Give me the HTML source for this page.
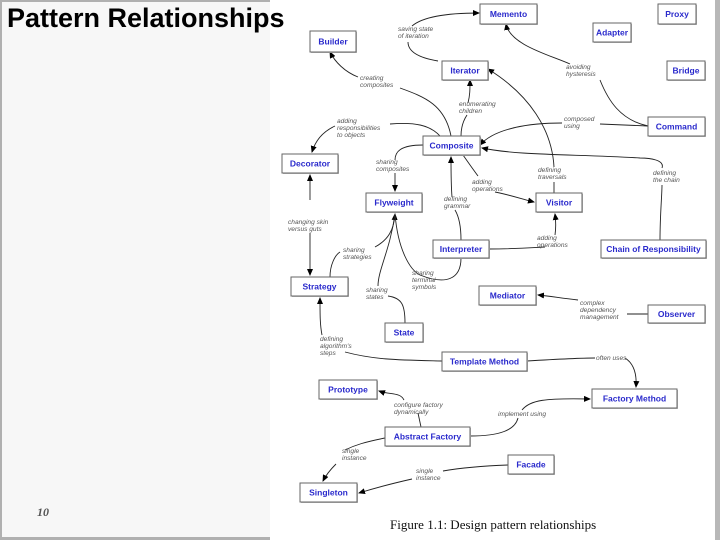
<!DOCTYPE html>
<html><head><meta charset="utf-8"><style>
html,body{margin:0;padding:0;}
body{width:720px;height:540px;position:relative;overflow:hidden;background:#fff;font-family:"Liberation Sans",Arial,sans-serif;}
.left{position:absolute;left:0;top:0;width:270px;height:540px;background:#f7f7f7;}
.bt{position:absolute;left:0;top:0;width:270px;height:2px;background:#b0b0b0;}
.bl{position:absolute;left:0;top:0;width:2px;height:540px;background:#b0b0b0;}
.bb{position:absolute;left:0;top:537px;width:270px;height:3px;background:#b0b0b0;}
.br{position:absolute;left:715px;top:0;width:5px;height:540px;background:#b8b8b8;}
.title{position:absolute;left:7px;top:3px;font-size:27px;font-weight:bold;color:#000;white-space:nowrap;}
.pn{position:absolute;left:37px;top:505px;font-size:12px;font-style:italic;font-weight:bold;color:#555;font-family:"Liberation Serif",serif;}
svg{position:absolute;left:0;top:0;}
</style></head><body>
<div class="left"></div><div class="bt"></div><div class="bl"></div><div class="bb"></div><div class="br"></div>
<svg width="720" height="540" viewBox="0 0 720 540">
<defs><marker id="a" markerWidth="7" markerHeight="6" refX="6" refY="3" orient="auto" markerUnits="userSpaceOnUse"><path d="M0,0 L7,3 L0,6z" fill="#000"/></marker></defs>
<g fill="none" stroke="#222" stroke-width="0.9">
<path d="M438,61 C420,58 408,52 408,42"/>
<path d="M412,26 C425,15 455,13 479,13" marker-end="url(#a)"/>
<path d="M451,136 C445,105 425,97 400,88"/>
<path d="M358,77 C345,72 335,62 330,52" marker-end="url(#a)"/>
<path d="M461,136 C461,125 465,118 467,115"/>
<path d="M468,103 C470,95 470,90 470,80" marker-end="url(#a)"/>
<path d="M554,195 L554,182"/>
<path d="M554,167 C552,130 530,95 488,69" marker-end="url(#a)"/>
<path d="M648,126 C620,120 608,100 600,80"/>
<path d="M570,64 C550,55 510,45 506,24" marker-end="url(#a)"/>
<path d="M648,126 L600,124"/>
<path d="M562,123 C530,123 495,128 480,145" marker-end="url(#a)"/>
<path d="M660,240 C660,215 662,195 662,185"/>
<path d="M662,168 C665,160 650,158 640,158 C580,154 520,156 482,148" marker-end="url(#a)"/>
<path d="M440,136 C430,125 415,122 390,124"/>
<path d="M335,126 C322,132 315,142 312,152" marker-end="url(#a)"/>
<path d="M423,145 C400,145 395,152 395,160"/>
<path d="M395,173 L395,191" marker-end="url(#a)"/>
<path d="M461,240 C461,225 458,215 455,210"/>
<path d="M452,197 C451,185 451,172 451,157" marker-end="url(#a)"/>
<path d="M463,155 C470,165 475,172 478,176"/>
<path d="M495,192 C510,195 522,199 534,202" marker-end="url(#a)"/>
<path d="M489,249 C520,249 540,247 545,247"/>
<path d="M555,235 C556,228 556,222 555,214" marker-end="url(#a)"/>
<path d="M310,200 L310,175" marker-end="url(#a)"/>
<path d="M310,233 L310,275" marker-end="url(#a)"/>
<path d="M330,277 C330,265 335,255 340,252"/>
<path d="M375,247 C388,240 394,230 395,214" marker-end="url(#a)"/>
<path d="M378,286 C378,270 390,250 395,214"/>
<path d="M461,258 C461,280 445,285 420,275 C410,270 398,250 395,214"/>
<path d="M405,323 C405,305 402,298 388,296"/>
<path d="M442,361 C400,360 375,360 345,352"/>
<path d="M322,335 C320,325 320,315 320,298" marker-end="url(#a)"/>
<path d="M527,361 C560,359 580,358 595,358"/>
<path d="M625,358 C633,363 637,372 636,387" marker-end="url(#a)"/>
<path d="M578,300 C560,298 550,296 538,295" marker-end="url(#a)"/>
<path d="M627,314 L648,314"/>
<path d="M404,400 C400,392 390,395 379,391" marker-end="url(#a)"/>
<path d="M421,427 L418,413"/>
<path d="M470,436 C500,436 515,430 518,418"/>
<path d="M522,410 C530,400 545,398 590,399" marker-end="url(#a)"/>
<path d="M385,438 C365,442 355,445 345,450"/>
<path d="M336,464 C330,470 325,477 323,481" marker-end="url(#a)"/>
<path d="M508,465 C480,466 460,468 443,471"/>
<path d="M412,479 C390,484 375,488 359,493" marker-end="url(#a)"/>
</g>
<g font-family="Liberation Sans,Arial,sans-serif" font-size="6.6" font-style="italic" fill="#555">
<text x="398" y="31">saving state</text><text x="398" y="38">of iteration</text>
<text x="360" y="80">creating</text><text x="360" y="87">composites</text>
<text x="459" y="106">enumerating</text><text x="459" y="113">children</text>
<text x="566" y="69">avoiding</text><text x="566" y="76">hysteresis</text>
<text x="564" y="121">composed</text><text x="564" y="128">using</text>
<text x="337" y="123">adding</text><text x="337" y="130">responsibilities</text><text x="337" y="137">to objects</text>
<text x="376" y="164">sharing</text><text x="376" y="171">composites</text>
<text x="472" y="184">adding</text><text x="472" y="191">operations</text>
<text x="538" y="172">defining</text><text x="538" y="179">traversals</text>
<text x="653" y="175">defining</text><text x="653" y="182">the chain</text>
<text x="444" y="201">defining</text><text x="444" y="208">grammar</text>
<text x="288" y="224">changing skin</text><text x="288" y="231">versus guts</text>
<text x="343" y="252">sharing</text><text x="343" y="259">strategies</text>
<text x="537" y="240">adding</text><text x="537" y="247">operations</text>
<text x="412" y="275">sharing</text><text x="412" y="282">terminal</text><text x="412" y="289">symbols</text>
<text x="366" y="292">sharing</text><text x="366" y="299">states</text>
<text x="580" y="305">complex</text><text x="580" y="312">dependency</text><text x="580" y="319">management</text>
<text x="320" y="341">defining</text><text x="320" y="348">algorithm's</text><text x="320" y="355">steps</text>
<text x="596" y="360">often uses</text>
<text x="394" y="407">configure factory</text><text x="394" y="414">dynamically</text>
<text x="498" y="416">implement using</text>
<text x="342" y="453">single</text><text x="342" y="460">instance</text>
<text x="416" y="473">single</text><text x="416" y="480">instance</text>
</g>
<g fill="#bbb">
<rect x="481" y="5" width="57" height="20"/><rect x="659" y="5" width="38" height="20"/>
<rect x="594" y="24" width="38" height="19"/><rect x="311" y="32" width="46" height="21"/>
<rect x="668" y="62" width="38" height="19"/><rect x="443" y="62" width="46" height="19"/>
<rect x="649" y="118" width="57" height="19"/><rect x="424" y="137" width="57" height="19"/>
<rect x="283" y="155" width="56" height="19"/><rect x="367" y="194" width="56" height="19"/>
<rect x="537" y="194" width="46" height="19"/><rect x="434" y="241" width="56" height="18"/>
<rect x="602" y="241" width="105" height="18"/><rect x="292" y="278" width="57" height="19"/>
<rect x="480" y="287" width="57" height="19"/><rect x="649" y="306" width="57" height="18"/>
<rect x="386" y="324" width="38" height="19"/><rect x="443" y="353" width="85" height="19"/>
<rect x="320" y="381" width="58" height="19"/><rect x="593" y="390" width="85" height="19"/>
<rect x="386" y="428" width="85" height="19"/><rect x="509" y="456" width="46" height="19"/>
<rect x="301" y="484" width="57" height="19"/>
</g>
<g stroke="#666" stroke-width="1" fill="#fff">
<rect x="480" y="4" width="57" height="20"/><rect x="658" y="4" width="38" height="20"/>
<rect x="593" y="23" width="38" height="19"/><rect x="310" y="31" width="46" height="21"/>
<rect x="667" y="61" width="38" height="19"/><rect x="442" y="61" width="46" height="19"/>
<rect x="648" y="117" width="57" height="19"/><rect x="423" y="136" width="57" height="19"/>
<rect x="282" y="154" width="56" height="19"/><rect x="366" y="193" width="56" height="19"/>
<rect x="536" y="193" width="46" height="19"/><rect x="433" y="240" width="56" height="18"/>
<rect x="601" y="240" width="105" height="18"/><rect x="291" y="277" width="57" height="19"/>
<rect x="479" y="286" width="57" height="19"/><rect x="648" y="305" width="57" height="18"/>
<rect x="385" y="323" width="38" height="19"/><rect x="442" y="352" width="85" height="19"/>
<rect x="319" y="380" width="58" height="19"/><rect x="592" y="389" width="85" height="19"/>
<rect x="385" y="427" width="85" height="19"/><rect x="508" y="455" width="46" height="19"/>
<rect x="300" y="483" width="57" height="19"/>
</g>
<g font-family="Liberation Sans,Arial,sans-serif" font-size="8.5" font-weight="bold" fill="#2a2acc" text-anchor="middle">
<text x="508.5" y="17">Memento</text><text x="677" y="17">Proxy</text>
<text x="612" y="35.5">Adapter</text><text x="333" y="44.5">Builder</text>
<text x="686" y="73.5">Bridge</text><text x="465" y="73.5">Iterator</text>
<text x="676.5" y="129.5">Command</text><text x="451.5" y="148.5">Composite</text>
<text x="310" y="166.5">Decorator</text><text x="394" y="205.5">Flyweight</text>
<text x="559" y="205.5">Visitor</text><text x="461" y="252">Interpreter</text>
<text x="653.5" y="252">Chain of Responsibility</text><text x="319.5" y="289.5">Strategy</text>
<text x="507.5" y="298.5">Mediator</text><text x="676.5" y="317">Observer</text>
<text x="404" y="335.5">State</text><text x="484.5" y="364.5">Template Method</text>
<text x="348" y="392.5">Prototype</text><text x="634.5" y="401.5">Factory Method</text>
<text x="427.5" y="439.5">Abstract Factory</text><text x="531" y="467.5">Facade</text>
<text x="328.5" y="495.5">Singleton</text>
</g>
<text x="390" y="529" font-family="Liberation Serif,serif" font-size="13" fill="#111">Figure 1.1:  Design pattern relationships</text>
</svg>
<div class="title">Pattern Relationships</div>
<div class="pn">10</div>
</body></html>
